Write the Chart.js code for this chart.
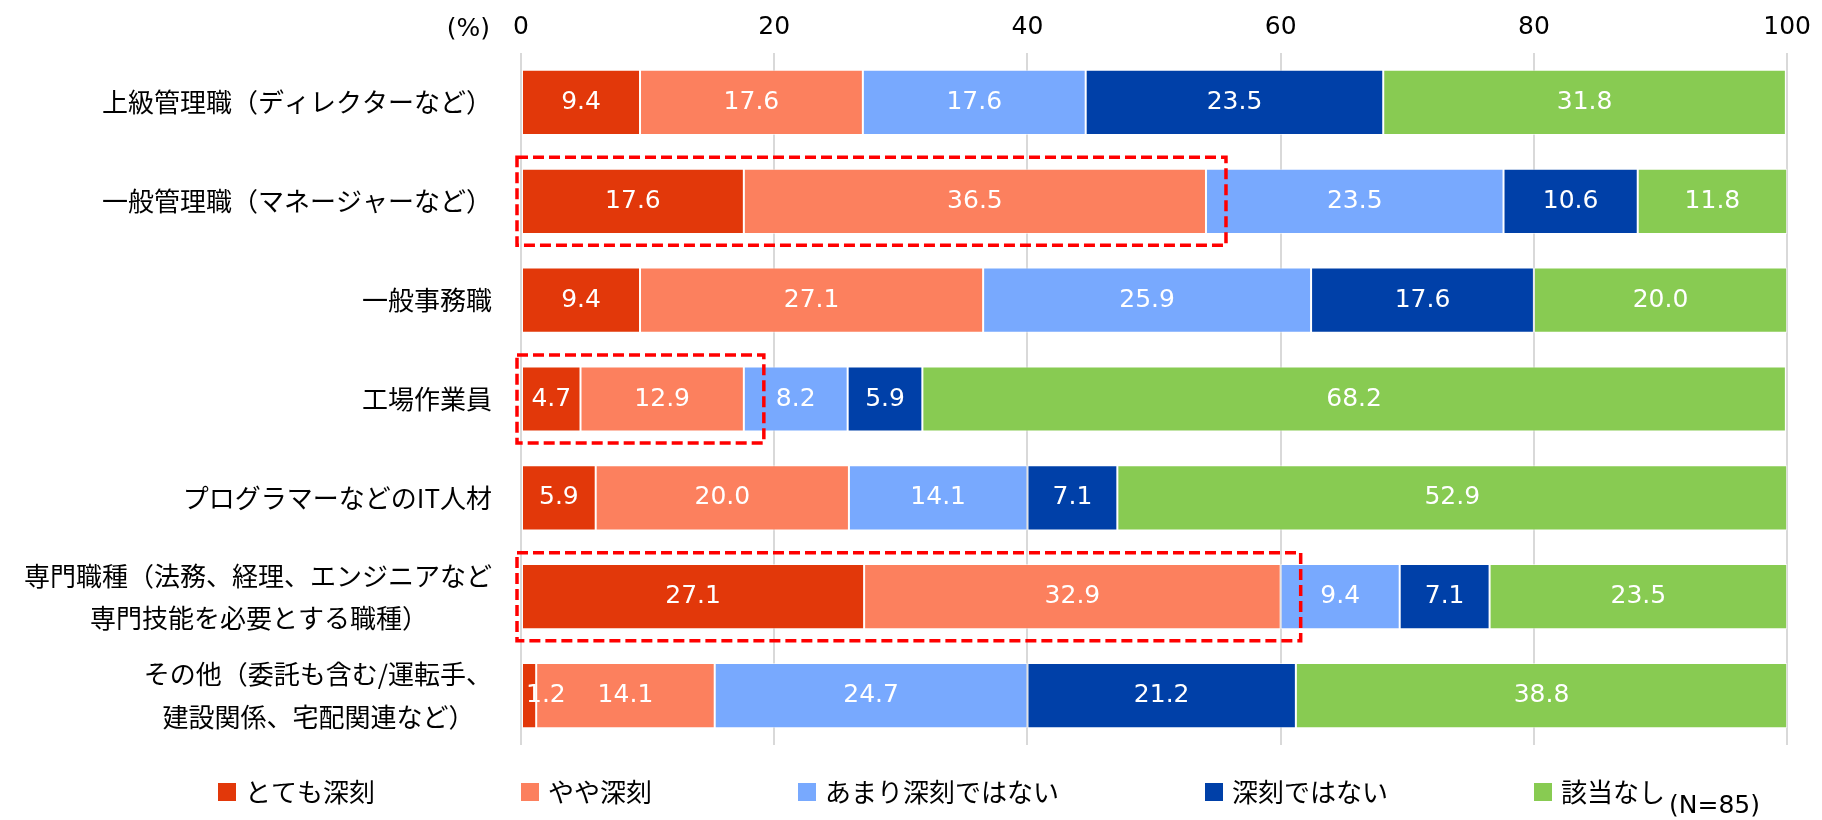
<!DOCTYPE html>
<html><head><meta charset="utf-8">
<script src="https://cdn.jsdelivr.net/npm/chart.js@4/dist/chart.umd.min.js"></script>
<style>html,body{margin:0;padding:0;background:#fff;}canvas{display:block}</style>
</head><body>
<canvas id="c" width="1822" height="820"></canvas>
<script>
const categories = [
  '上級管理職（ディレクターなど）',
  '一般管理職（マネージャーなど）',
  '一般事務職',
  '工場作業員',
  'プログラマーなどのIT人材',
  ['専門職種（法務、経理、エンジニアなど', '専門技能を必要とする職種）'],
  ['その他（委託も含む/運転手、', '建設関係、宅配関連など）']
];
const seriesNames = ['とても深刻', 'やや深刻', 'あまり深刻ではない', '深刻ではない', '該当なし'];
const verySerious     = [9.4, 17.6, 9.4, 4.7, 5.9, 27.1, 1.2];
const somewhatSerious = [17.6, 36.5, 27.1, 12.9, 20.0, 32.9, 14.1];
const notVerySerious  = [17.6, 23.5, 25.9, 8.2, 14.1, 9.4, 24.7];
const notSerious      = [23.5, 10.6, 17.6, 5.9, 7.1, 7.1, 21.2];
const notApplicable   = [31.8, 11.8, 20.0, 68.2, 52.9, 23.5, 38.8];
const xTicks = [0, 20, 40, 60, 80, 100];
const highlightedRows = [1, 3, 5];
const unitLabel = '(%)';
const sampleNote = '(N=85)';

const CJK = '"Noto Sans CJK JP", "Noto Sans", sans-serif';
const LAT = '"DejaVu Sans", Verdana, sans-serif';
const colors = ['#E2380A', '#FC805E', '#78A9FE', '#0040A8', '#88CB52'];
const seriesValues = [verySerious, somewhatSerious, notVerySerious, notSerious, notApplicable];

const measureCtx = document.createElement('canvas').getContext('2d');

const valueLabels = {
  id: 'valueLabels',
  afterDatasetsDraw(chart) {
    const ctx = chart.ctx;
    ctx.save();
    ctx.font = '25px ' + LAT;
    ctx.fillStyle = '#ffffff';
    ctx.textBaseline = 'middle';
    chart.data.datasets.forEach((ds, di) => {
      const meta = chart.getDatasetMeta(di);
      meta.data.forEach((bar, i) => {
        const txt = ds.data[i].toFixed(1);
        const w = ctx.measureText(txt).width;
        const l = Math.min(bar.x, bar.base), r = Math.max(bar.x, bar.base);
        if (w > r - l - 4) {
          ctx.textAlign = 'left';
          ctx.fillText(txt, l + 4, bar.y);
        } else {
          ctx.textAlign = 'center';
          ctx.fillText(txt, (l + r) / 2, bar.y);
        }
      });
    });
    ctx.restore();
  }
};

const highlightBoxes = {
  id: 'highlightBoxes',
  afterDraw(chart) {
    const {ctx, scales: {x, y}} = chart;
    ctx.save();
    ctx.strokeStyle = '#FF0000';
    ctx.lineWidth = 3.5;
    ctx.setLineDash([11, 5]);
    highlightedRows.forEach(r => {
      const end = verySerious[r] + somewhatSerious[r];
      const x0 = x.getPixelForValue(0) - 4;
      const x1 = x.getPixelForValue(end) + 20;
      const yc = y.getPixelForValue(r);
      ctx.strokeRect(x0, yc - 44, x1 - x0, 88);
    });
    ctx.restore();
  }
};

const extras = {
  id: 'extras',
  afterDraw(chart) {
    const {ctx, scales: {x}} = chart;
    ctx.save();
    ctx.font = '25px ' + LAT;
    ctx.fillStyle = '#000';
    ctx.textAlign = 'right';
    ctx.textBaseline = 'bottom';
    ctx.fillText(unitLabel, x.getPixelForValue(0) - 31, x.bottom - 11);
    ctx.font = '26px ' + CJK;
    ctx.textBaseline = 'middle';
    ctx.textAlign = 'left';
    let xp = 218;
    const yc = 792;
    let lastEnd = xp;
    chart.data.datasets.forEach(ds => {
      ctx.fillStyle = ds.backgroundColor;
      ctx.fillRect(xp, yc - 9, 18, 18);
      ctx.fillStyle = '#000';
      ctx.fillText(ds.label, xp + 27, yc);
      const w = ctx.measureText(ds.label).width;
      lastEnd = xp + 27 + w;
      xp = lastEnd + 146;
    });
    ctx.font = '25px ' + LAT;
    ctx.fillStyle = '#000';
    ctx.fillText(sampleNote, lastEnd + 4, 806);
    ctx.restore();
  }
};

new Chart(document.getElementById('c'), {
  type: 'bar',
  data: {
    labels: categories,
    datasets: seriesNames.map((name, i) => ({
      label: name,
      data: seriesValues[i],
      backgroundColor: colors[i],
      borderColor: 'rgba(255,255,255,0.55)',
      borderWidth: 1,
      borderSkipped: false,
      barPercentage: 0.66,
      categoryPercentage: 1.0
    }))
  },
  options: {
    indexAxis: 'y',
    responsive: false,
    devicePixelRatio: 1,
    animation: false,
    layout: {padding: {top: 12, right: 30, bottom: 75, left: 0}},
    plugins: {legend: {display: false}, tooltip: {enabled: false}},
    scales: {
      x: {
        position: 'top',
        stacked: true,
        min: 0,
        max: 100,
        afterBuildTicks: (scale) => { scale.ticks = xTicks.map(v => ({value: v})); },
        afterFit: (scale) => { scale.height = 41; },
        ticks: {font: {family: LAT, size: 25, lineHeight: 1.2}, color: '#000', padding: 11, maxRotation: 0},
        grid: {color: '#D9D9D9', lineWidth: 2, drawTicks: false},
        border: {display: false}
      },
      y: {
        stacked: true,
        afterFit: (scale) => { scale.width = 521; scale.paddingTop = 0; scale.paddingBottom = 0; },
        ticks: {
          font: {family: CJK, size: 26, lineHeight: 1.62},
          color: '#000',
          padding: 29,
          autoSkip: false,
          callback: function(value, index) {
            const lab = categories[index];
            if (!Array.isArray(lab)) return lab;
            measureCtx.font = '26px ' + CJK;
            const widths = lab.map(s => measureCtx.measureText(s).width);
            const maxW = Math.max(...widths);
            const sp = measureCtx.measureText('\u00a0').width || 6;
            return lab.map((s, k) => s + '\u00a0'.repeat(Math.round((maxW - widths[k]) / 2 / sp)));
          }
        },
        grid: {display: false, drawTicks: false},
        border: {display: false}
      }
    }
  },
  plugins: [valueLabels, highlightBoxes, extras]
});
</script>
</body></html>
